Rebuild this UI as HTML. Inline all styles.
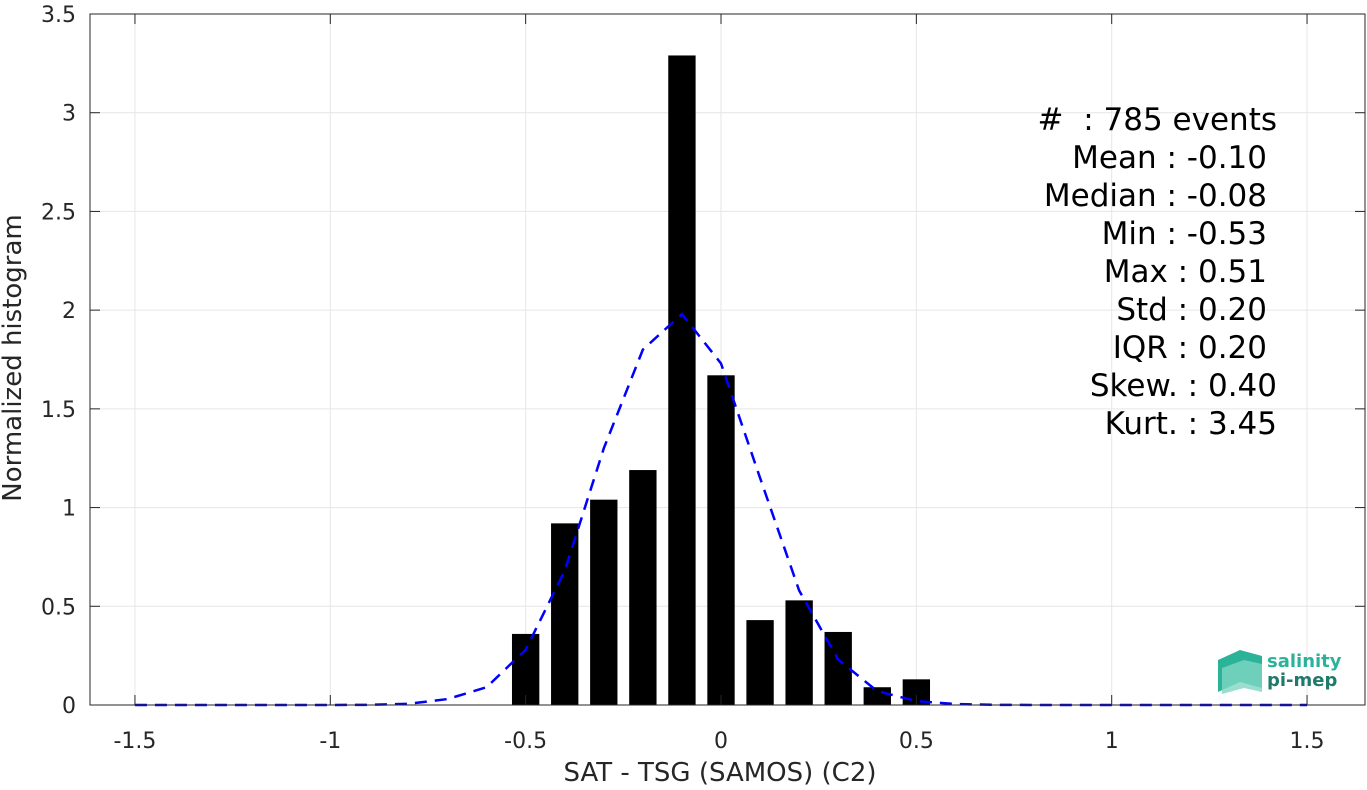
<!DOCTYPE html>
<html><head><meta charset="utf-8"><style>
body{margin:0;background:#fff;font-family:"Liberation Sans","DejaVu Sans",sans-serif;}
svg text{font-family:"DejaVu Sans","Liberation Sans",sans-serif;}
</style></head><body>
<svg id="chart" width="1367" height="785" viewBox="0 0 1367 785" xmlns="http://www.w3.org/2000/svg">
<rect width="1367" height="785" fill="#fff"/>
<g id="grid"></g>
<g id="bars"></g>
<g id="curve"></g>
<g id="axes"></g>
<g font-size="31" fill="#000" text-anchor="end">
<text x="1277" y="130" style="white-space:pre">#  : 785 events</text>
<text x="1267" y="168">Mean : -0.10</text>
<text x="1267" y="206">Median : -0.08</text>
<text x="1267" y="244">Min : -0.53</text>
<text x="1267" y="282">Max : 0.51</text>
<text x="1267" y="320">Std : 0.20</text>
<text x="1267" y="358">IQR : 0.20</text>
<text x="1277" y="396">Skew. : 0.40</text>
<text x="1277" y="434">Kurt. : 3.45</text>
</g>
<g>
<path d="M1218 660 L1240 650 L1262 656 L1262 688 L1240 682 L1218 692 Z" fill="#2bb39a"/>
<path d="M1222 668 L1244 660 L1262 664 L1262 692 L1244 688 L1222 694 Z" fill="#7fd6c2" opacity="0.8"/>
<text x="1267" y="667" font-size="18" font-weight="bold" fill="#2bb39a">salinity</text>
<text x="1267" y="686" font-size="18" font-weight="bold" fill="#1f7a6a">pi-mep</text>
</g>
<text x="720" y="781" font-size="26" text-anchor="middle" fill="#262626">SAT - TSG (SAMOS) (C2)</text>
<text transform="translate(21,358) rotate(-90)" font-size="26" text-anchor="middle" fill="#262626">Normalized histogram</text>
</svg>
<script>
const binCenters=[-0.5,-0.4,-0.3,-0.2,-0.1,0,0.1,0.2,0.3,0.4,0.5];
const binValues=[0.36,0.92,1.04,1.19,3.29,1.67,0.43,0.53,0.37,0.09,0.13];
const fitX=[-1.5,-1.4,-1.3,-1.2,-1.1,-1.0,-0.9,-0.8,-0.7,-0.6,-0.5,-0.4,-0.3,-0.2,-0.1,0,0.1,0.2,0.3,0.4,0.5,0.6,0.7,0.8,0.9,1.0,1.1,1.2,1.3,1.4,1.5];
const fitY=[0,0,0,0,0,0,0.001,0.006,0.03,0.09,0.28,0.68,1.3,1.8,1.98,1.73,1.15,0.58,0.23,0.07,0.02,0.005,0.001,0,0,0,0,0,0,0,0];
const xTicks=[-1.5,-1,-0.5,0,0.5,1,1.5];
const xTickLabels=["-1.5","-1","-0.5","0","0.5","1","1.5"];
const yTicks=[0,0.5,1,1.5,2,2.5,3,3.5];
const yTickLabels=["0","0.5","1","1.5","2","2.5","3","3.5"];
const L=90,R=1365,T=14,B=705;
const xs=v=>721+v*390.7;
const ys=v=>B-v*(B-T)/3.5;
const NS="http://www.w3.org/2000/svg";
function mk(tag,attrs,parent){const e=document.createElementNS(NS,tag);for(const k in attrs)e.setAttribute(k,attrs[k]);parent.appendChild(e);return e;}
const grid=document.getElementById('grid'),bars=document.getElementById('bars'),curve=document.getElementById('curve'),axes=document.getElementById('axes');
xTicks.forEach((t,i)=>{
 const g=mk('line',{x1:xs(t),x2:xs(t),y1:T,y2:B,stroke:'#e6e6e6','stroke-width':1},grid);
 
 
 mk('line',{x1:xs(t),x2:xs(t),y1:B,y2:B-10,stroke:'#262626'},axes);
 mk('line',{x1:xs(t),x2:xs(t),y1:T,y2:T+10,stroke:'#262626'},axes);
 const tx=mk('text',{x:xs(t),y:B+43,'font-size':22,'text-anchor':'middle',fill:'#262626'},axes);
 tx.textContent=xTickLabels[i];
 
 
});
yTicks.forEach((t,i)=>{
 const g=mk('line',{x1:L,x2:R,y1:ys(t),y2:ys(t),stroke:'#e6e6e6','stroke-width':1},grid);
 
 
 mk('line',{x1:L,x2:L+10,y1:ys(t),y2:ys(t),stroke:'#262626'},axes);
 mk('line',{x1:R,x2:R-10,y1:ys(t),y2:ys(t),stroke:'#262626'},axes);
 const tx=mk('text',{x:L-14,y:ys(t)+8,'font-size':22,'text-anchor':'end',fill:'#262626'},axes);
 tx.textContent=yTickLabels[i];
 
 
});
const frame=mk('rect',{x:L,y:T,width:R-L,height:B-T,fill:'none',stroke:'#262626','stroke-width':1},axes);


const bw=0.07*390.7;
binCenters.forEach((c,i)=>{
 const r=mk('rect',{x:xs(c)-bw/2,y:ys(binValues[i]),width:bw,height:B-ys(binValues[i]),fill:'#000'},bars);
 
 
});
const p=mk('polyline',{points:fitX.map((x,i)=>xs(x)+','+ys(fitY[i])).join(' '),fill:'none',stroke:'#0000ff','stroke-width':2.5,'stroke-dasharray':'12,8'},curve);


</script>
</body></html>
